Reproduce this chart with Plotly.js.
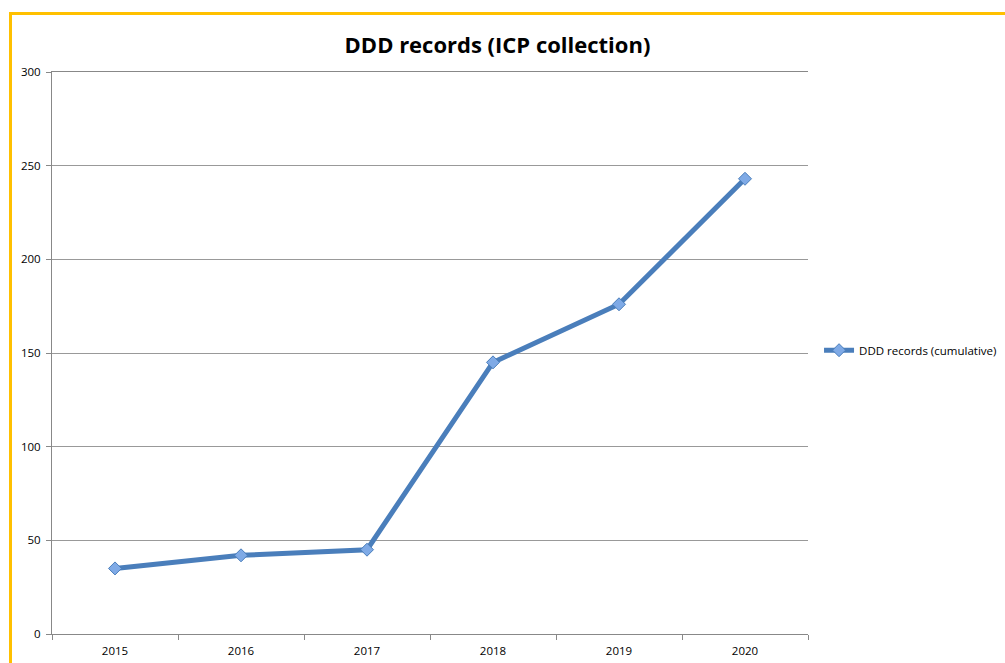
<!DOCTYPE html>
<html><head><meta charset="utf-8">
<script src="https://cdn.plot.ly/plotly-3.0.1.min.js"></script>
<style>html,body{margin:0;padding:0;background:#fff;}#chart{width:1005px;height:663px;}
#frameTop{position:absolute;left:9px;top:12px;width:996px;height:3px;background:#FFC000;}
#frameLeft{position:absolute;left:9px;top:12px;width:3px;height:651px;background:#FFC000;}
</style></head>
<body><div id="chart"></div><div id="frameTop"></div><div id="frameLeft"></div>
<script>
const years = ['2015','2016','2017','2018','2019','2020'];
const cumulative = [35, 42, 45, 145, 176, 243];
const seriesName = 'DDD records (cumulative)';
const yTicks = [0, 50, 100, 150, 200, 250, 300];

const font = {family: 'Open Sans, Liberation Sans, sans-serif', size: 11.5, color: '#000'};
Plotly.newPlot('chart', [{
  x: years, y: cumulative, type: 'scatter', mode: 'lines+markers', name: seriesName,
  line: {color: '#4A7EBB', width: 5},
  marker: {symbol: 'diamond', size: 10, color: '#7FAAE6', line: {color: '#4A7EBB', width: 1}}
}], {
  width: 1005, height: 663,
  margin: {l: 52, r: 197, t: 72, b: 29, autoexpand: false},
  paper_bgcolor: '#fff', plot_bgcolor: '#fff',
  font: font,
  title: {text: '<b>DDD records (ICP collection)</b>', x: 0.495, xanchor: 'center', y: 0.931, yanchor: 'middle',
          font: {family: 'Open Sans, Liberation Sans, sans-serif', size: 22, color: '#000'}},
  xaxis: {type: 'category', range: [-0.5, 5.5], tickson: 'boundaries', ticks: 'outside', ticklen: 5, tickcolor: '#888',
          showline: true, mirror: true, linecolor: '#888', linewidth: 1, showgrid: false, tickfont: font, fixedrange: true,
          ticklabelstandoff: 6},
  yaxis: {range: [0, 300], tickvals: yTicks, ticks: 'outside', ticklen: 5, tickcolor: '#888',
          showline: true, linecolor: '#888', linewidth: 1, showgrid: true, gridcolor: '#999', gridwidth: 1,
          zeroline: false, tickfont: font, fixedrange: true, ticklabelstandoff: 3},
  showlegend: true,
  legend: {x: 1.0146, y: 0.505, xanchor: 'left', yanchor: 'middle', font: font, bgcolor: 'rgba(0,0,0,0)', itemwidth: 30}
}, {displayModeBar: false, staticPlot: true});
</script></body></html>
